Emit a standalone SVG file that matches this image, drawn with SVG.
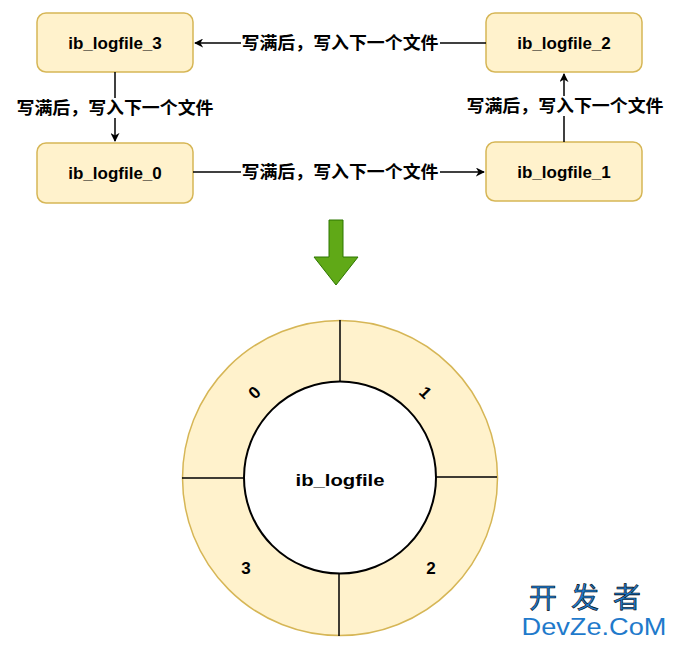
<svg xmlns="http://www.w3.org/2000/svg" width="678" height="646" viewBox="0 0 678 646">
<defs>
<style>
.box{fill:#fff2cc;stroke:#d6b656;stroke-width:1.5}
.t{font-family:"Liberation Sans",Arial,sans-serif;font-weight:bold;font-size:17px;text-anchor:middle;fill:#000}
.lbl{font-family:"Liberation Sans","Noto Sans CJK SC",sans-serif;font-weight:bold;font-size:17px;text-anchor:middle;fill:#000}
.e{stroke:#000;stroke-width:1.5;fill:none}
.wm{font-family:"Liberation Sans","Noto Sans CJK SC",sans-serif;fill:#1f7acb}
</style>
<marker id="ah" viewBox="0 0 10 10" refX="9" refY="5" markerWidth="9" markerHeight="9" orient="auto" markerUnits="userSpaceOnUse"><path d="M0,0L10,5L0,10L3,5Z" fill="#000"/></marker>
</defs>
<g id="n3"><rect class="box" x="37" y="13" width="156" height="59" rx="9"/><text class="t" x="115" y="49">ib_logfile_3</text></g>
<g id="n2"><rect class="box" x="486" y="13" width="156" height="59" rx="9"/><text class="t" x="564" y="49">ib_logfile_2</text></g>
<g id="n0"><rect class="box" x="37" y="143" width="156" height="60" rx="9"/><text class="t" x="115" y="179">ib_logfile_0</text></g>
<g id="n1"><rect class="box" x="486" y="142" width="156" height="59" rx="9"/><text class="t" x="564" y="178">ib_logfile_1</text></g>
<g id="edges">
<path class="e" d="M486,43H195" marker-end="url(#ah)"/>
<path class="e" d="M115,72V141" marker-end="url(#ah)"/>
<path class="e" d="M193,172H484" marker-end="url(#ah)"/>
<path class="e" d="M564,142V74" marker-end="url(#ah)"/>
<rect x="241" y="33" width="199" height="20" fill="#fff"/>
<text class="lbl" x="340" y="49" textLength="197" lengthAdjust="spacingAndGlyphs">写满后，写入下一个文件</text>
<rect x="16" y="98" width="199" height="20" fill="#fff"/>
<text class="lbl" x="115" y="114" textLength="197" lengthAdjust="spacingAndGlyphs">写满后，写入下一个文件</text>
<rect x="241" y="162" width="199" height="20" fill="#fff"/>
<text class="lbl" x="340" y="178" textLength="197" lengthAdjust="spacingAndGlyphs">写满后，写入下一个文件</text>
<rect x="466" y="96" width="199" height="20" fill="#fff"/>
<text class="lbl" x="565" y="112" textLength="197" lengthAdjust="spacingAndGlyphs">写满后，写入下一个文件</text>
</g>
<g id="bigarrow"><path d="M329,220H343V257H358L336,285L314,257H329Z" fill="#60a917" stroke="#2d7600" stroke-width="1"/></g>
<g id="ring">
<circle cx="340" cy="478" r="157.5" fill="#fff2cc" stroke="#d6b656" stroke-width="1.5"/>
<path class="e" d="M340,320V382M339,574V636M182,478H244M436,477H497"/>
<circle cx="340" cy="477.5" r="96" fill="#fff" stroke="#000" stroke-width="2"/>
<text class="t" x="340" y="486" font-size="20" textLength="89" lengthAdjust="spacingAndGlyphs">ib_logfile</text>
<text class="t" transform="translate(255,393) rotate(-45)" y="5" font-size="14">0</text>
<text class="t" transform="translate(425,393) rotate(45)" y="5" font-size="14">1</text>
<text class="t" x="431" y="574" font-size="15">2</text>
<text class="t" x="246" y="574" font-size="15">3</text>
</g>
<g id="watermark">
<text class="wm" x="592" y="608" font-size="28" text-anchor="middle" stroke="#000" stroke-width="0.6" letter-spacing="14">开发者</text>
<text class="wm" x="594" y="635" font-size="23" text-anchor="middle" textLength="145" lengthAdjust="spacingAndGlyphs">DevZe.CoM</text>
</g>
</svg>
